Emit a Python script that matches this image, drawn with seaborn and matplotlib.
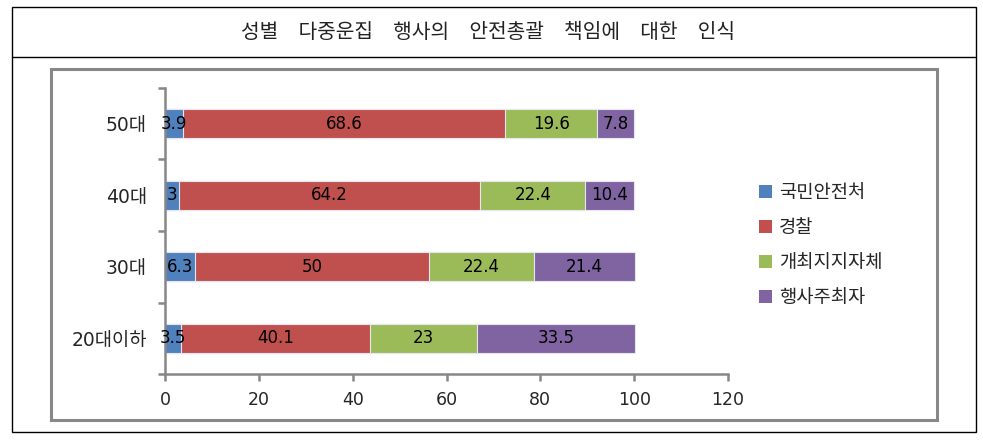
import matplotlib
matplotlib.use("Agg")
import matplotlib.pyplot as plt
from matplotlib.patches import Rectangle, Patch
from matplotlib.lines import Line2D
import seaborn as sns
import pandas as pd
import numpy as np

categories = ["50대", "40대", "30대", "20대이하"]
series = ["국민안전처", "경찰", "개최지지자체", "행사주최자"]
s_safety = [3.9, 3, 6.3, 3.5]
s_police = [68.6, 64.2, 50, 40.1]
s_local = [19.6, 22.4, 22.4, 23]
s_host = [7.8, 10.4, 21.4, 33.5]
colors = ["#4F81BD", "#C0504D", "#9BBB59", "#8064A2"]
title_words = ["성별", "다중운집", "행사의", "안전총괄", "책임에", "대한", "인식"]

sns.set_theme(style="white")
FAM = ["DejaVu Sans", "Noto Sans CJK KR"]
plt.rcParams["font.family"] = FAM

W, H = 983, 443
fig = plt.figure(figsize=(W / 100, H / 100), dpi=100)
fig.patch.set_facecolor("white")

def fx(px):
    return px / W

def fy(py):
    return 1 - py / H

ax = fig.add_axes([fx(165), fy(374), fx(728) - fx(165), fy(88) - fy(374)])

vals = [s_safety, s_police, s_local, s_host]
cum = np.cumsum(np.array(vals), axis=0)
# draw cumulative bars from largest to smallest so they appear stacked
for i in range(len(series) - 1, -1, -1):
    df = pd.DataFrame({"cat": categories, "val": cum[i]})
    sns.barplot(data=df, y="cat", x="val", order=categories, orient="h",
                color=colors[i], saturation=1, width=0.41,
                edgecolor="#E6E6F0", linewidth=0.8, ax=ax)

# data labels
for i in range(len(series)):
    for j, c in enumerate(categories):
        start = cum[i][j] - vals[i][j]
        ax.text(start + vals[i][j] / 2, j, f"{vals[i][j]:g}", ha="center", va="center",
                fontsize=12, color="black", family=FAM)

ax.set_xlim(0, 120)
ax.set_ylim(3.5, -0.5)
ax.set_xticks(range(0, 121, 20))
ax.set_xticklabels([str(v) for v in range(0, 121, 20)], fontsize=12.5)
ax.set_yticks(range(len(categories)))
ax.set_yticklabels(categories, fontsize=13.5)
ax.set_yticks(np.arange(-0.5, 4.0, 1.0), minor=True)
ax.set_xlabel("")
ax.set_ylabel("")
gray = "#878787"
for s in ["top", "right"]:
    ax.spines[s].set_visible(False)
for s in ["left", "bottom"]:
    ax.spines[s].set_visible(True)
    ax.spines[s].set_color(gray)
    ax.spines[s].set_linewidth(1.8)
ax.tick_params(axis="y", which="major", length=0, pad=13)
ax.tick_params(axis="y", which="minor", length=5, width=1.8, color=gray, left=True)
ax.tick_params(axis="x", which="major", length=5, width=1.8, color=gray, bottom=True, pad=7)
ax.grid(False)

# frames
fig.add_artist(Rectangle((fx(12), fy(432)), fx(976) - fx(12), fy(7) - fy(432),
                         transform=fig.transFigure, fill=False, edgecolor="black", linewidth=1.0))
fig.add_artist(Line2D([fx(12), fx(976)], [fy(57), fy(57)], transform=fig.transFigure,
                      color="black", linewidth=1.0))
fig.add_artist(Rectangle((fx(51), fy(420)), fx(937) - fx(51), fy(69) - fy(420),
                         transform=fig.transFigure, fill=False, edgecolor=gray, linewidth=2.2))

title = "\u3000".join(title_words)
fig.text(fx(488), fy(32), title, ha="center", va="center", fontsize=14.6,
         family=["Noto Sans CJK KR", "DejaVu Sans"], color="#222222")

handles = [Patch(facecolor=colors[i], edgecolor="none", label=series[i]) for i in range(len(series))]
fig.legend(handles=handles, loc="center left", bbox_to_anchor=(fx(759), fy(245)),
           frameon=False, handlelength=0.7, handleheight=0.7,
           handletextpad=0.35, labelspacing=0.75, borderpad=0, borderaxespad=0,
           prop={"family": ["Noto Sans CJK KR", "DejaVu Sans"], "size": 13.5})

fig.savefig("out.png", dpi=100, facecolor="white")
